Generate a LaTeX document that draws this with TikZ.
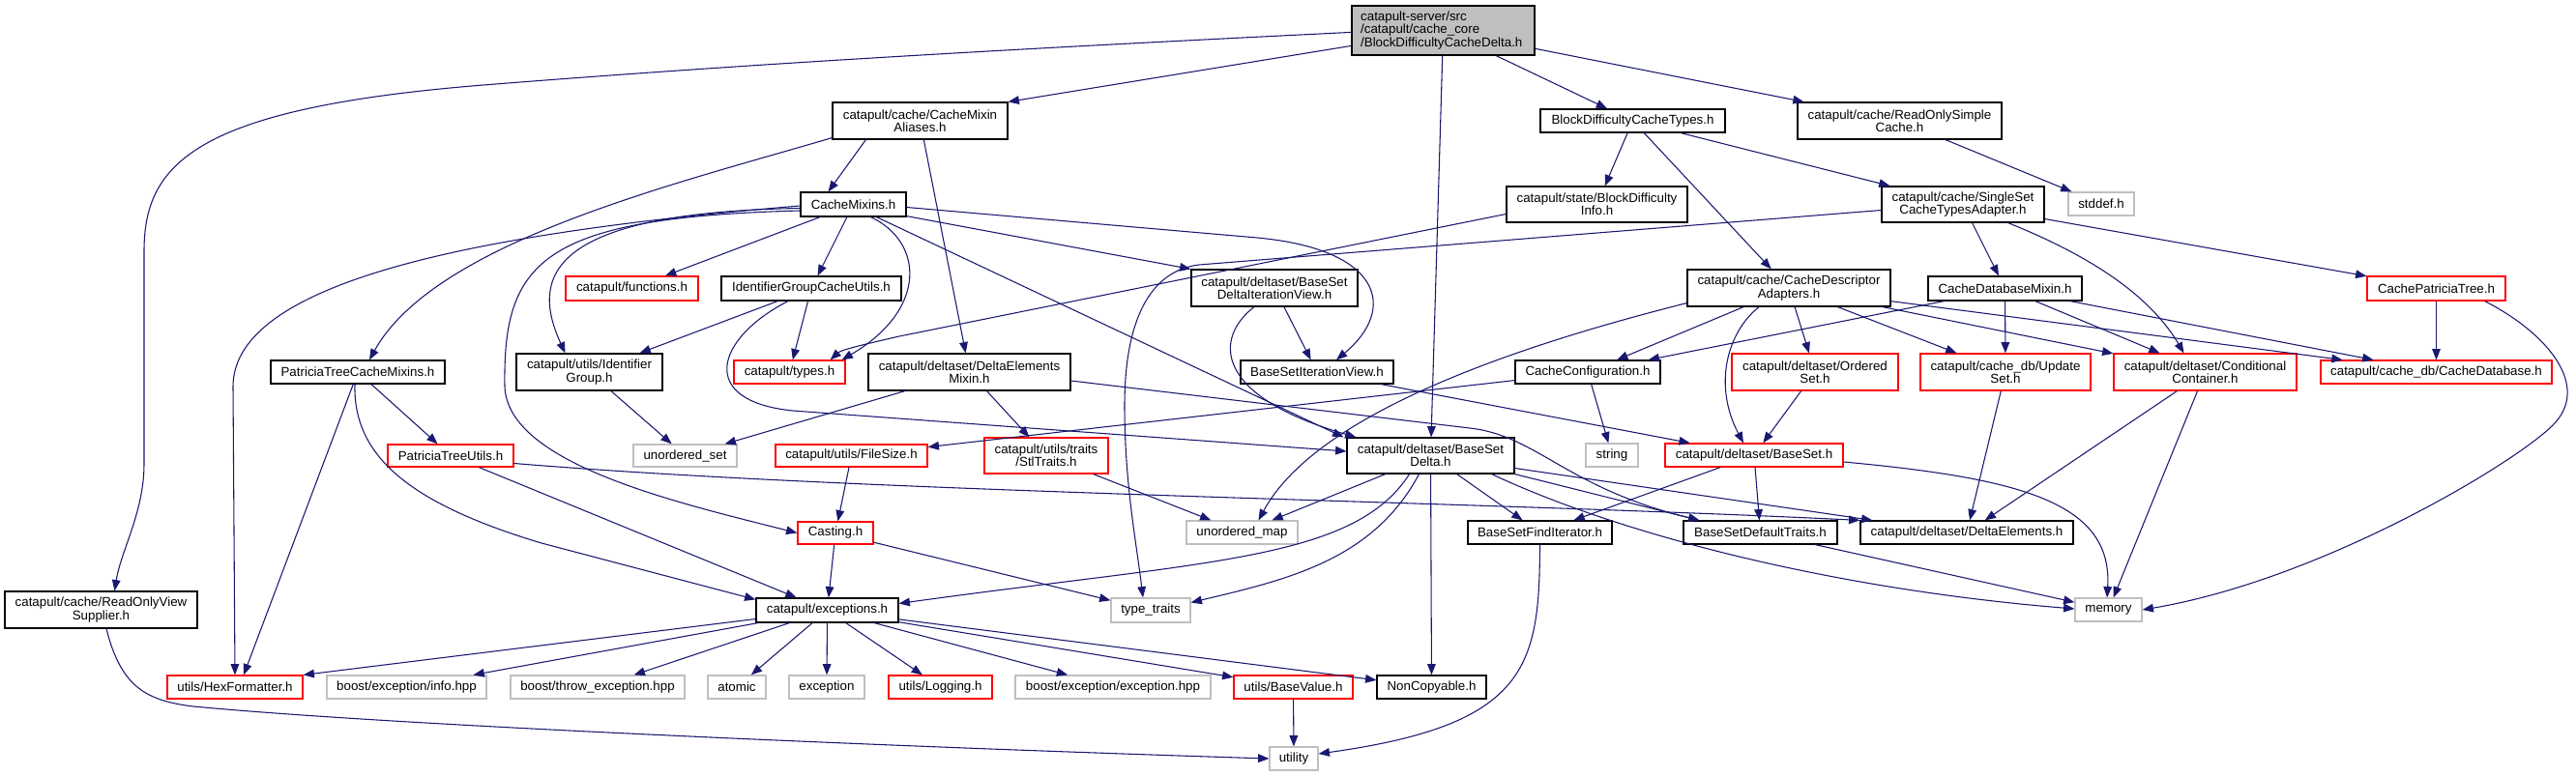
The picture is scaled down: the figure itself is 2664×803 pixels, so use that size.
\documentclass[tikz,border=0pt]{standalone}
\usepackage{fontspec}
\setmainfont{Liberation Sans}
\usetikzlibrary{arrows.meta,calc}
\definecolor{edgecol}{HTML}{191970}
\definecolor{grayb}{HTML}{BFBFBF}
\definecolor{redb}{HTML}{FF0000}
\newcommand{\mkbox}[7]{\node[#6, minimum width={(#4-#2)*0.75pt}, minimum height={(#5-#3)*0.75pt}] (#1) at ({(#2+#4)/2},{(#3+#5)/2}) {#7};}
\begin{document}
\begin{tikzpicture}[x=0.75pt,y=-0.75pt,
  box/.style={draw, rectangle, inner sep=0pt, align=center, font=\fontsize{10pt}{10pt}\selectfont, line width=0.9pt},
  blk/.style={box, draw=black},
  rd/.style={box, draw=redb},
  gr/.style={box, draw=grayb},
  topbox/.style={box, draw=black, fill=grayb, align=left, text width=128pt},
  e/.style={draw=edgecol, line width=0.8pt, -{Triangle[length=8.5pt,width=6.5pt]}}]
\fill[white] (0,0) rectangle (2664,803);
\useasboundingbox (0,0) rectangle (2664,803);
% nodes
\mkbox{top}{1398}{6}{1587}{57}{topbox}{catapult-server/src\\/catapult/cache\_core\\/BlockDifficultyCacheDelta.h}
\mkbox{alias}{861}{106}{1042}{144}{blk}{catapult/cache/CacheMixin\\Aliases.h}
\mkbox{bdct}{1593}{113}{1784}{137}{blk}{BlockDifficultyCacheTypes.h}
\mkbox{rosc}{1859}{106}{2070}{144}{blk}{catapult/cache/ReadOnlySimple\\Cache.h}
\mkbox{cm}{828}{199}{937}{224}{blk}{CacheMixins.h}
\mkbox{bdi}{1558}{193}{1745}{230}{blk}{catapult/state/BlockDifficulty\\Info.h}
\mkbox{sscta}{1946}{193}{2114}{230}{blk}{catapult/cache/SingleSet\\CacheTypesAdapter.h}
\mkbox{stddef}{2139}{199}{2207}{223}{gr}{stddef.h}
\mkbox{cda}{1745}{279}{1955}{317}{blk}{catapult/cache/CacheDescriptor\\Adapters.h}
\mkbox{cdbm}{1994}{286}{2153}{311}{blk}{CacheDatabaseMixin.h}
\mkbox{cpt}{2448}{286}{2591}{311}{rd}{CachePatriciaTree.h}
\mkbox{func}{585}{286}{722}{311}{rd}{catapult/functions.h}
\mkbox{igcu}{746}{286}{932}{311}{blk}{IdentifierGroupCacheUtils.h}
\mkbox{bsdiv}{1232}{279}{1404}{317}{blk}{catapult/deltaset/BaseSet\\DeltaIterationView.h}
\mkbox{ptcm}{280}{373}{460}{397}{blk}{PatriciaTreeCacheMixins.h}
\mkbox{uig}{534}{366}{685}{404}{blk}{catapult/utils/Identifier\\Group.h}
\mkbox{types}{759}{373}{874}{397}{rd}{catapult/types.h}
\mkbox{dem}{898}{366}{1107}{404}{blk}{catapult/deltaset/DeltaElements\\Mixin.h}
\mkbox{bsiv}{1283}{373}{1441}{397}{blk}{BaseSetIterationView.h}
\mkbox{cconf}{1567}{373}{1717}{397}{blk}{CacheConfiguration.h}
\mkbox{oset}{1791}{366}{1963}{404}{rd}{catapult/deltaset/Ordered\\Set.h}
\mkbox{uset}{1986}{366}{2162}{404}{rd}{catapult/cache\_db/Update\\Set.h}
\mkbox{ccont}{2186}{366}{2375}{404}{rd}{catapult/deltaset/Conditional\\Container.h}
\mkbox{cdb}{2400}{373}{2639}{397}{rd}{catapult/cache\_db/CacheDatabase.h}
\mkbox{ptu}{401}{460}{531}{483}{rd}{PatriciaTreeUtils.h}
\mkbox{uoset}{655}{460}{762}{483}{gr}{unordered\_set}
\mkbox{fsize}{802}{460}{959}{483}{rd}{catapult/utils/FileSize.h}
\mkbox{stl}{1018}{453}{1146}{490}{rd}{catapult/utils/traits\\/StlTraits.h}
\mkbox{bsd}{1393}{453}{1566}{490}{blk}{catapult/deltaset/BaseSet\\Delta.h}
\mkbox{string}{1640}{459}{1694}{483}{gr}{string}
\mkbox{bset}{1722}{459}{1906}{483}{rd}{catapult/deltaset/BaseSet.h}
\mkbox{casting}{825}{540}{903}{563}{rd}{Casting.h}
\mkbox{uomap}{1227}{539}{1342}{563}{gr}{unordered\_map}
\mkbox{bsfi}{1518}{539}{1667}{563}{blk}{BaseSetFindIterator.h}
\mkbox{bsdt}{1741}{539}{1900}{563}{blk}{BaseSetDefaultTraits.h}
\mkbox{delem}{1924}{539}{2144}{563}{blk}{catapult/deltaset/DeltaElements.h}
\mkbox{rovs}{5}{612}{204}{650}{blk}{catapult/cache/ReadOnlyView\\Supplier.h}
\mkbox{exc}{782}{619}{929}{644}{blk}{catapult/exceptions.h}
\mkbox{ttraits}{1149}{619}{1231}{644}{gr}{type\_traits}
\mkbox{memory}{2146}{619}{2215}{643}{gr}{memory}
\mkbox{hex}{173}{699}{313}{723}{rd}{utils/HexFormatter.h}
\mkbox{binfo}{338}{699}{503}{723}{gr}{boost/exception/info.hpp}
\mkbox{bthrow}{528}{699}{708}{723}{gr}{boost/throw\_exception.hpp}
\mkbox{atomic}{732}{699}{792}{723}{gr}{atomic}
\mkbox{exception}{816}{699}{894}{723}{gr}{exception}
\mkbox{logging}{919}{699}{1026}{723}{rd}{utils/Logging.h}
\mkbox{bexc}{1050}{699}{1252}{723}{gr}{boost/exception/exception.hpp}
\mkbox{bval}{1276}{699}{1399}{723}{rd}{utils/BaseValue.h}
\mkbox{noncopy}{1424}{699}{1537}{723}{blk}{NonCopyable.h}
\mkbox{utility}{1313}{773}{1363}{797}{gr}{utility}
% edges: top
\draw[e] ($(top.north west)+(0,28)$) .. controls (1100,48) and (800,64) .. (500,88) .. controls (200,112) and (149,170) .. (149,260) -- (149,480) .. controls (149,530) and (125,570) .. ($(rovs.north)+(14,0)$);
\draw[e] ($(top.north west)+(0,42)$) -- (alias.north east);
\draw[e] (top) -- (bsd);
\draw[e] (top) -- (bdct);
\draw[e] (top) -- (rosc);
% alias
\draw[e] ($(alias.south west)+(35,0)$) -- ($(cm.north)+(-26,0)$);
\draw[e] ($(alias.south west)+(0,-2)$) .. controls (700,190) and (450,250) .. ($(ptcm.north)+(12,0)$);
\draw[e] (alias) -- (dem);
% cm
\draw[e] (cm) -- (func);
\draw[e] (cm) -- (igcu);
\draw[e] ($(cm.west)+(0,4)$) .. controls (560,220) and (550,290) .. ($(uig.north)+(-25,0)$);
\draw[e] ($(cm.south)+(18,0)$) .. controls (955,250) and (960,320) .. ($(types.north east)+(-4,0)$);
\draw[e] ($(cm.south east)+(0,-1)$) -- (bsdiv.north west);
\draw[e] ($(cm.east)+(0,3)$) -- (1300,246) .. controls (1430,258) and (1445,320) .. ($(bsiv.north)+(20,0)$);
\draw[e] ($(cm.south)+(24,0)$) -- ($(bsd.north west)+(-3,0)$);
\draw[e] ($(cm.west)+(0,1.5)$) .. controls (500,240) and (241,290) .. (241,400) -- (hex.north);
\draw[e] ($(cm.west)+(0,6.5)$) .. controls (560,225) and (520,270) .. (522,400) .. controls (525,480) and (700,520) .. (casting.west);
% igcu
\draw[e] (igcu) -- (uig);
\draw[e] (igcu) -- (types);
\draw[e] ($(igcu.south)+(-24,0)$) .. controls (740,350) and (720,415) .. (820,425) -- ($(bsd.west)+(0,-4.5)$);
% bdct, rosc
\draw[e] (bdct) -- (bdi);
\draw[e] (bdct) -- (cda);
\draw[e] (bdct) -- (sscta);
\draw[e] (rosc) -- (stddef);
% bdi
\draw[e] ($(bdi.west)+(0,10)$) -- (930,348) .. controls (895,356) and (870,362) .. ($(types.north east)+(-16,0)$);
% sscta
\draw[e] ($(sscta.west)+(0,6)$) -- (1240,274) .. controls (1190,280) and (1163,330) .. (1163,420) .. controls (1163,500) and (1175,560) .. ($(ttraits.north)+(-8,0)$);
\draw[e] (sscta) -- (cdbm);
\draw[e] ($(sscta.south east)+(-38,0)$) .. controls (2150,260) and (2220,300) .. ($(ccont.north)+(-22,0)$);
\draw[e] (sscta) -- (cpt);
% cda
\draw[e] ($(cda.south west)+(0,-4)$) .. controls (1560,360) and (1360,430) .. ($(uomap.north)+(17,0)$);
\draw[e] (cda) -- (cconf);
\draw[e] (cda) -- (oset);
\draw[e] (cda) -- (uset);
\draw[e] (cda) -- (ccont);
\draw[e] (cda) -- (cdb);
\draw[e] ($(cda.south)+(-31,0)$) .. controls (1785,345) and (1772,400) .. ($(bset.north)+(-11,0)$);
% cdbm
\draw[e] ($(cdbm.south west)+(17,0)$) -- ($(cconf.north east)+(-13,0)$);
\draw[e] (cdbm) -- (uset);
\draw[e] (cdbm) -- (ccont);
\draw[e] (cdbm) -- (cdb);
% cpt
\draw[e] (cpt) -- (cdb);
\draw[e] ($(cpt.south east)+(-22,0)$) .. controls (2635,345) and (2680,400) .. (2640,440) .. controls (2600,480) and (2400,600) .. (memory.east);
% bsdiv, bsiv
\draw[e] (bsdiv) -- (bsiv);
\draw[e] ($(bsdiv.south)+(-21,0)$) .. controls (1255,350) and (1255,410) .. ($(bsd.north west)+(10,0)$);
\draw[e] (bsiv) -- (bset);
% cconf
\draw[e] (cconf) -- (fsize);
\draw[e] (cconf) -- (string);
% oset, uset, ccont
\draw[e] (oset) -- (bset);
\draw[e] (uset) -- (delem);
\draw[e] (ccont) -- (delem);
\draw[e] (ccont) -- (memory);
% bset
\draw[e] ($(bset.east)+(0,7)$) .. controls (2090,495) and (2185,520) .. ($(memory.north)+(-1.5,0)$);
\draw[e] (bset) -- (bsdt);
\draw[e] (bset) -- (bsfi);
% bsdt, bsfi
\draw[e] (bsdt) -- (memory);
\draw[e] (bsfi.south) .. controls (1592,690) and (1580,750) .. ($(utility.east)+(0,-5)$);
% bsd
\draw[e] (bsd) -- (uomap);
\draw[e] ($(bsd.south)+(-22,0)$) .. controls (1400,580) and (1250,580) .. ($(exc.east)+(0,-7)$);
\draw[e] ($(bsd.south)+(-12,0)$) .. controls (1420,580) and (1330,600) .. ($(ttraits.east)+(0,-8)$);
\draw[e] (bsd) -- (noncopy);
\draw[e] (bsd) -- (bsfi);
\draw[e] (bsd.south east) -- ($(bsdt.north west)+(17,0)$);
\draw[e] ($(bsd.south east)+(-24,0)$) .. controls (1680,555) and (1900,610) .. ($(memory.west)+(0,-1)$);
\draw[e] ($(bsd.east)+(0,13)$) -- ($(delem.north west)+(13,0)$);
% dem
\draw[e] (dem) -- (uoset);
\draw[e] (dem) -- (stl);
\draw[e] ($(dem.east)+(0,9)$) -- (1520,443) .. controls (1590,451) and (1620,505) .. ($(bsdt.north west)+(17,0)$);
% stl
\draw[e] (stl) -- (uomap);
% ptcm
\draw[e] (ptcm) -- (ptu);
\draw[e] (ptcm) -- ($(hex.north)+(9,0)$);
\draw[e] ($(ptcm.south)+(-3,0)$) .. controls (365,470) and (420,520) .. (560,562) -- ($(exc.north west)+(0,2)$);
% ptu
\draw[e] (ptu) -- (exc);
\draw[e] ($(ptu.east)+(0,8)$) .. controls (900,510) and (1500,518) .. (delem.north west);
% fsize, casting, uig
\draw[e] (fsize) -- (casting);
\draw[e] (casting) -- (exc);
\draw[e] (casting) -- (ttraits);
\draw[e] (uig) -- (uoset);
% exc
\draw[e] ($(exc.west)+(0,9)$) -- (hex.north east);
\draw[e] (exc) -- (binfo);
\draw[e] (exc) -- (bthrow);
\draw[e] (exc) -- (atomic);
\draw[e] (exc) -- (exception);
\draw[e] (exc) -- (logging);
\draw[e] (exc) -- (bexc);
\draw[e] (exc) -- (bval);
\draw[e] (exc) -- (noncopy);
% bval, rovs
\draw[e] (bval) -- (utility);
\draw[e] ($(rovs.south)+(5.5,0)$) .. controls (125,710) and (150,725) .. (200,731) .. controls (400,750) and (900,772) .. (utility.west);
\end{tikzpicture}
\end{document}
